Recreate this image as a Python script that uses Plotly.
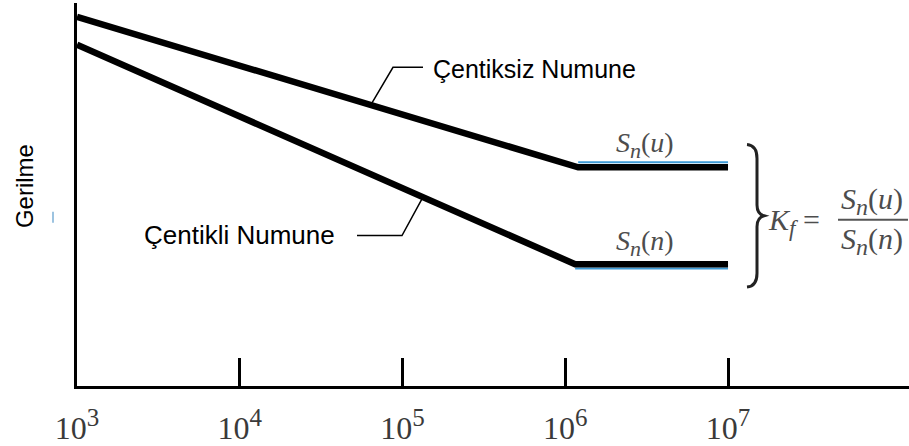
import plotly.graph_objects as go

# S-N curves: smooth (unnotched) and notched specimens
cycles_unnotched = [1e3, 1.2e6, 1e7]
stress_unnotched = [96.4, 57.1, 57.1]

cycles_notched = [1e3, 1.15e6, 1e7]
stress_notched = [89.1, 31.8, 31.8]

tick_vals = [1e3, 1e4, 1e5, 1e6, 1e7]
tick_exponents = ["3", "4", "5", "6", "7"]
tick_text = [f"10<sup><span style='font-size:25px'>{e}</span></sup>"
             for e in tick_exponents]

W, H = 909, 446
L, R, T, B = 77, 0, 3, 56


def px(x):
    """Pixel column -> paper x."""
    return (x - L) / (W - L - R)


def py(y):
    """Pixel row -> paper y."""
    return (H - B - y) / (H - T - B)


def path(points):
    return "M " + " L ".join(f"{px(x):.5f},{py(y):.5f}" for x, y in points)


def sn(arg, sub_size=22):
    return (f"<i>S<sub><span style='font-size:{sub_size}px'>n</span></sub></i>"
            f"(<i>{arg}</i>)")


fig = go.Figure()

# thin blue edge along the endurance-limit plateaus
blue = "#3d9ad6"
fig.add_trace(go.Scatter(
    x=cycles_unnotched[1:], y=[v + 1.3 for v in stress_unnotched[1:]],
    mode="lines", line=dict(color=blue, width=2), hoverinfo="skip"))
fig.add_trace(go.Scatter(
    x=cycles_notched[1:], y=[v - 1.15 for v in stress_notched[1:]],
    mode="lines", line=dict(color=blue, width=2), hoverinfo="skip"))

fig.add_trace(go.Scatter(
    x=cycles_unnotched, y=stress_unnotched, mode="lines",
    line=dict(color="black", width=6.5), name="Çentiksiz Numune"))
fig.add_trace(go.Scatter(
    x=cycles_notched, y=stress_notched, mode="lines",
    line=dict(color="black", width=6.5), name="Çentikli Numune"))

shapes = []
# leader lines to the curve labels
shapes.append(dict(type="path", xref="paper", yref="paper",
                   path=path([(372, 104), (393, 68), (423, 68)]),
                   line=dict(color="black", width=1.5)))
shapes.append(dict(type="path", xref="paper", yref="paper",
                   path=path([(357, 238), (402, 238), (422, 201)]),
                   line=dict(color="black", width=1.5)))

# curly brace grouping the two plateaus
brace = (f"M {px(747):.5f},{py(146):.5f} "
         f"Q {px(757):.5f},{py(147):.5f} {px(757):.5f},{py(160):.5f} "
         f"L {px(757):.5f},{py(207):.5f} "
         f"Q {px(757):.5f},{py(216):.5f} {px(764):.5f},{py(218):.5f} "
         f"Q {px(757):.5f},{py(220):.5f} {px(757):.5f},{py(229):.5f} "
         f"L {px(757):.5f},{py(276):.5f} "
         f"Q {px(757):.5f},{py(289):.5f} {px(747):.5f},{py(290):.5f}")
shapes.append(dict(type="path", xref="paper", yref="paper", path=brace,
                   line=dict(color="#222222", width=3)))

# fraction bar of K_f
shapes.append(dict(type="line", xref="paper", yref="paper",
                   x0=px(838), x1=px(908), y0=py(222), y1=py(222),
                   line=dict(color="#555555", width=2)))

# small stray mark left of the axis
shapes.append(dict(type="rect", xref="paper", yref="paper",
                   x0=px(52), x1=px(54), y0=py(225), y1=py(214),
                   line=dict(width=0), fillcolor="#9cc3e0"))

sans = "Liberation Sans, Arial, sans-serif"
serif = "Liberation Serif, Times New Roman, serif"
formula_color = "#4d4d4d"

annotations = [
    dict(text="Çentiksiz Numune", x=px(431), y=py(70), xanchor="left",
         yanchor="middle", font=dict(family=sans, size=25, color="black")),
    dict(text="Çentikli Numune", x=px(337), y=py(237), xanchor="right",
         yanchor="middle", font=dict(family=sans, size=26, color="black")),
    dict(text="Gerilme", x=px(24), y=py(188), textangle=-90,
         xanchor="center", yanchor="middle",
         font=dict(family=sans, size=24, color="black")),
    dict(text=sn("u"), x=px(645), y=py(146),
         xanchor="center", yanchor="middle",
         font=dict(family=serif, size=28, color=formula_color)),
    dict(text=sn("n"), x=px(645), y=py(246),
         xanchor="center", yanchor="middle",
         font=dict(family=serif, size=28, color=formula_color)),
    dict(text="<i>K<sub><span style='font-size:23px'>f</span></sub></i> =",
         x=px(766), y=py(224), xanchor="left", yanchor="middle",
         font=dict(family=serif, size=30, color=formula_color)),
    dict(text=sn("u", 24), x=px(872), y=py(203),
         xanchor="center", yanchor="middle",
         font=dict(family=serif, size=30, color=formula_color)),
    dict(text=sn("n", 24), x=px(872), y=py(243),
         xanchor="center", yanchor="middle",
         font=dict(family=serif, size=30, color=formula_color)),
]
for a in annotations:
    a.update(xref="paper", yref="paper", showarrow=False)

fig.update_layout(
    width=W, height=H,
    margin=dict(l=L, r=R, t=T, b=B),
    paper_bgcolor="white", plot_bgcolor="white",
    showlegend=False,
    shapes=shapes, annotations=annotations,
    xaxis=dict(type="log", range=[3, 8.112], showgrid=False, zeroline=False,
               showline=True, linecolor="black", linewidth=3,
               ticks="inside", ticklen=28, tickwidth=3, tickcolor="black",
               tickvals=tick_vals, ticktext=tick_text,
               ticklabelstandoff=12,
               tickfont=dict(family=serif, size=32, color="#3a3a3a")),
    yaxis=dict(range=[0, 100], showgrid=False, zeroline=False,
               showline=True, linecolor="black", linewidth=3,
               showticklabels=False, ticks=""),
)

fig.write_html("out.html")
